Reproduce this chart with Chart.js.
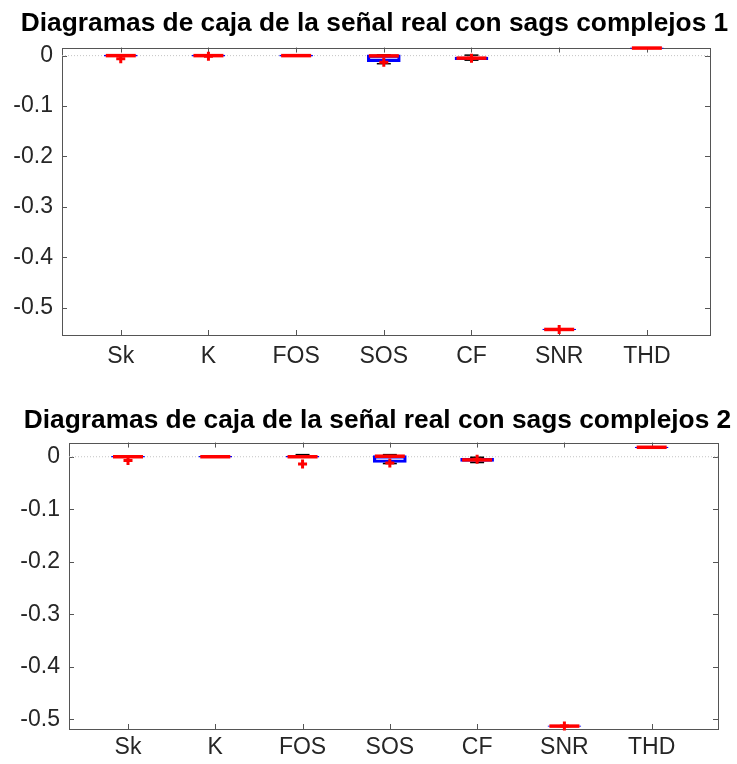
<!DOCTYPE html>
<html>
<head>
<meta charset="utf-8">
<script src="https://cdn.jsdelivr.net/npm/chart.js@4/dist/chart.umd.min.js"></script>
<style>
  html, body { margin: 0; padding: 0; background: #fff; }
  .panel { position: absolute; left: 0; width: 737px; height: 382px; }
</style>
</head>
<body>
<div class="panel" style="top:0"><canvas id="box1"></canvas></div>
<div class="panel" style="top:382px"><canvas id="box2"></canvas></div>
<script>
// features on the x axis
const labels = ["Sk", "K", "FOS", "SOS", "CF", "SNR", "THD"];
const yTicks = [0, -0.1, -0.2, -0.3, -0.4, -0.5];

// panel 1 box statistics
const q1_1      = [-0.001, -0.001, -0.001, -0.012, -0.008, -0.5435, 0.0145];
const median_1  = [0, 0, 0, -0.0005, -0.005, -0.543, 0.015];
const q3_1      = [0.001, 0.001, 0.001, 0.0015, -0.003, -0.5425, 0.0155];
const whiskLo_1 = [-0.001, -0.001, -0.001, -0.016, -0.009, -0.5435, 0.0145];
const whiskHi_1 = [0.001, 0.001, 0.001, 0.0015, 0.001, -0.5425, 0.0155];
const outliers_1 = [[-0.006], [-0.001], [], [-0.013], [-0.005], [-0.543], []];

// panel 2 box statistics
const q1_2      = [-0.001, -0.001, -0.001, -0.011, -0.009, -0.5135, 0.0175];
const median_2  = [0, 0, 0, 0.001, -0.006, -0.513, 0.018];
const q3_2      = [0.001, 0.001, 0.001, 0.002, -0.003, -0.5125, 0.0185];
const whiskLo_2 = [-0.001, -0.001, -0.001, -0.013, -0.011, -0.5135, 0.0175];
const whiskHi_2 = [0.001, 0.001, 0.004, 0.004, -0.001, -0.5125, 0.0185];
const outliers_2 = [[-0.007], [], [-0.014], [-0.012], [-0.005], [-0.513], []];

const FONT = "'Liberation Sans', Arial, sans-serif";
const INK = "#262626";

// axes box with small inward tick marks
const framePlugin = {
    id: "frame",
    beforeDatasetsDraw(chart) {
        const a = chart.chartArea;
        const c = chart.ctx;
        c.save();
        c.strokeStyle = "#555";
        c.lineWidth = 1;
        c.strokeRect(Math.round(a.left) + 0.5, Math.round(a.top) + 0.5,
                     Math.round(a.right - a.left), Math.round(a.bottom - a.top));
        c.beginPath();
        chart.scales.y.ticks.forEach(t => {
            let py = Math.round(chart.scales.y.getPixelForValue(t.value)) + 0.5;
            c.moveTo(a.left, py); c.lineTo(a.left + 5, py);
            c.moveTo(a.right, py); c.lineTo(a.right - 5, py);
        });
        chart.scales.x.ticks.forEach(t => {
            let px = Math.round(chart.scales.x.getPixelForValue(t.value)) + 0.5;
            c.moveTo(px, a.top); c.lineTo(px, a.top + 5);
            c.moveTo(px, a.bottom); c.lineTo(px, a.bottom - 5);
        });
        c.stroke();
        c.restore();
    }
};

function makePanel(id, title, s, cfg) {
    let boxes = [], medians = [], whiskers = [], caps = [], outs = [];
    labels.forEach((name, i) => {
        let x = i + 1;
        boxes.push({ x: x, y: [s.q1[i], s.q3[i]] });
        medians.push({ x: x, y: s.median[i] });
        whiskers.push({ x: x, y: s.q3[i] }, { x: x, y: s.hi[i] }, { x: x, y: null });
        whiskers.push({ x: x, y: s.q1[i] }, { x: x, y: s.lo[i] }, { x: x, y: null });
        caps.push({ x: x, y: s.hi[i] }, { x: x, y: s.lo[i] });
        s.out[i].forEach(v => outs.push({ x: x, y: v }));
    });

    new Chart(document.getElementById(id), {
        type: "bar",
        data: {
            datasets: [
                {
                    type: "scatter", data: outs, order: 0, clip: false,
                    pointStyle: "cross", pointRadius: 4.5,
                    pointBorderColor: "#ff0000", pointBorderWidth: 3
                },
                {
                    type: "scatter", data: medians, order: 1, clip: false,
                    pointStyle: "line", pointRadius: 15,
                    pointBorderColor: "#ff0000", pointBorderWidth: 3.5
                },
                {
                    type: "scatter", data: caps, order: 2, clip: false,
                    pointStyle: "line", pointRadius: 7,
                    pointBorderColor: "#000", pointBorderWidth: 1.5
                },
                {
                    type: "line", data: whiskers, order: 3, clip: false,
                    borderColor: "#000", borderWidth: 1,
                    pointRadius: 0, spanGaps: false
                },
                {
                    type: "bar", data: boxes, order: 4, clip: false,
                    barThickness: 33, borderColor: "#0000ff", borderWidth: 2.5,
                    backgroundColor: "rgba(0,0,0,0)", borderSkipped: false
                },
                {
                    type: "line", order: 5,
                    data: [{ x: cfg.xMin, y: 0 }, { x: cfg.xMax, y: 0 }],
                    borderColor: "#c4c4c4", borderWidth: 1, borderDash: [1, 2],
                    pointRadius: 0
                }
            ]
        },
        options: {
            responsive: true,
            maintainAspectRatio: false,
            animation: false,
            events: [],
            layout: { padding: { left: cfg.left, right: 0, top: 0, bottom: 0 } },
            plugins: {
                legend: { display: false },
                tooltip: { enabled: false },
                title: {
                    display: true,
                    text: title,
                    color: "#000",
                    font: { family: FONT, size: 26.3, weight: "bold" },
                    padding: { top: cfg.titleTop, bottom: cfg.titleBottom }
                }
            },
            scales: {
                x: {
                    type: "linear",
                    min: cfg.xMin,
                    max: cfg.xMax,
                    offset: false,
                    grid: { display: false, drawTicks: false },
                    border: { display: false },
                    afterBuildTicks: scale => {
                        scale.ticks = labels.map((l, i) => ({ value: i + 1 }));
                    },
                    afterFit: scale => { scale.height = cfg.xHeight; },
                    ticks: {
                        autoSkip: false,
                        maxRotation: 0,
                        padding: cfg.xPad,
                        color: INK,
                        font: { family: FONT, size: 23 },
                        callback: v => labels[v - 1]
                    }
                },
                y: {
                    min: cfg.yMin,
                    max: cfg.yMax,
                    grid: { display: false, drawTicks: false },
                    border: { display: false },
                    afterBuildTicks: scale => {
                        scale.ticks = yTicks.map(v => ({ value: v }));
                    },
                    afterFit: scale => { scale.width = cfg.axisLeft - cfg.left; },
                    ticks: {
                        padding: 9,
                        color: INK,
                        font: { family: FONT, size: 23 },
                        callback: v => (v === 0 ? "0" : v.toFixed(1))
                    }
                },
                // empty right-hand axis: keeps the margin right of the plot
                yRight: {
                    position: "right",
                    grid: { display: false, drawTicks: false },
                    border: { display: false },
                    ticks: { display: false },
                    afterFit: scale => { scale.width = cfg.right; }
                }
            }
        },
        plugins: [framePlugin]
    });
}

makePanel("box1", "Diagramas de caja de la señal real con sags complejos 1",
    { q1: q1_1, median: median_1, q3: q3_1, lo: whiskLo_1, hi: whiskHi_1, out: outliers_1 },
    { xMin: 0.33, xMax: 7.72, yMin: -0.554, yMax: 0.016, left: 12, right: 27, axisLeft: 62,
      xHeight: 47, xPad: 8, titleTop: 8, titleBottom: 8 });

makePanel("box2", "Diagramas de caja de la señal real con sags complejos 2",
    { q1: q1_2, median: median_2, q3: q3_2, lo: whiskLo_2, hi: whiskHi_2, out: outliers_2 },
    { xMin: 0.324, xMax: 7.76, yMin: -0.5185, yMax: 0.027, left: 18, right: 19, axisLeft: 69,
      xHeight: 35, xPad: 5, titleTop: 23, titleBottom: 6 });
</script>
</body>
</html>
